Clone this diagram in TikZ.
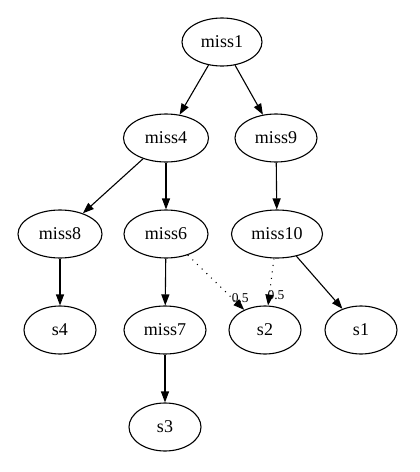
\documentclass[tikz,border=0pt]{standalone}
\usepackage{fontspec}
\setmainfont{Liberation Serif}
\usetikzlibrary{shapes.geometric,arrows.meta}
\begin{document}
\begin{tikzpicture}[x=1pt,y=-1pt,
  nd/.style={ellipse,draw,line width=1.1pt,inner sep=0pt,minimum height=48pt,font=\fontsize{18}{20}\selectfont},
  wide/.style={nd,minimum width=84pt},
  wider/.style={nd,minimum width=91pt},
  small/.style={nd,minimum width=72pt},
  edge/.style={line width=1.1pt,-{Triangle[length=11pt,width=8pt]}},
  dotedge/.style={edge,dash pattern=on 1pt off 5.5pt},
  lbl/.style={font=\fontsize{13.5}{14}\selectfont,inner sep=0pt}]
\useasboundingbox (0,0) rectangle (420,472);
\node[nd,minimum width=80pt] (m1) at (222,42) {miss1};
\node[nd,minimum width=85pt] (m4) at (166,138) {miss4};
\node[nd,minimum width=82pt] (m9) at (276,138) {miss9};
\node[wide] (m8) at (60,234) {miss8};
\node[wide] (m6) at (166,234) {miss6};
\node[wider] (m10) at (277,234) {miss10};
\node[small] (s4) at (60,330) {s4};
\node[nd,minimum width=82pt] (m7) at (165,330) {miss7};
\node[small] (s2) at (265,330) {s2};
\node[small] (s1) at (361,330) {s1};
\node[small] (s3) at (165,427) {s3};
\draw[edge] (m1) -- (m4);
\draw[edge] (m1) -- (m9);
\draw[edge] (m4) -- (m8);
\draw[edge] (m4) -- (m6);
\draw[edge] (m9) -- (m10);
\draw[edge] (m8) -- (s4);
\draw[edge] (m6) -- (m7);
\draw[edge] (m10) -- (s1);
\draw[edge] (m7) -- (s3);
\draw[dotedge] (m6) -- (s2) node[lbl,at end,xshift=-4pt,yshift=12pt] {0.5};
\draw[dotedge] (m10) -- (s2) node[lbl,at end,xshift=8pt,yshift=10pt] {0.5};
\end{tikzpicture}
\end{document}
